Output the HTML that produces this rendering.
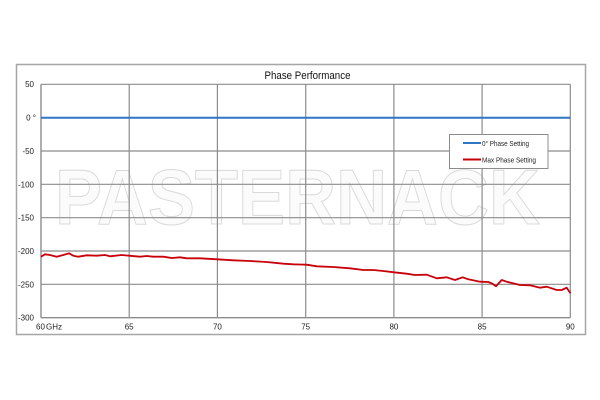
<!DOCTYPE html>
<html><head><meta charset="utf-8"><style>
html,body{margin:0;padding:0;background:#fff;}
svg{display:block;}
text{font-family:"Liberation Sans",sans-serif;}
</style></head><body>
<svg width="600" height="400" viewBox="0 0 600 400" xmlns="http://www.w3.org/2000/svg">
<rect x="0" y="0" width="600" height="400" fill="#fff"/>
<rect x="16.5" y="64.5" width="569" height="270" fill="#fff" stroke="#a6a6a6" stroke-width="1.5"/>
<text x="307.5" y="79" font-size="11" text-anchor="middle" fill="#111" textLength="86" lengthAdjust="spacingAndGlyphs">Phase Performance</text>
<!-- watermark -->
<text x="55" y="224" font-size="78" font-weight="bold" fill="#fbfbfb" stroke="#d9d9d9" stroke-width="1" textLength="485" lengthAdjust="spacingAndGlyphs">PASTERNACK</text>
<!-- grid -->
<g stroke="#8c8c8c" stroke-width="1.2" fill="none">
<line x1="41" y1="84.3" x2="570.3" y2="84.3"/>
<line x1="41" y1="151" x2="570.3" y2="151"/>
<line x1="41" y1="184.3" x2="570.3" y2="184.3"/>
<line x1="41" y1="217.7" x2="570.3" y2="217.7"/>
<line x1="41" y1="251" x2="570.3" y2="251"/>
<line x1="41" y1="284.3" x2="570.3" y2="284.3"/>
<line x1="41" y1="117.7" x2="570.3" y2="117.7"/>
<line x1="129.2" y1="84.3" x2="129.2" y2="317.7"/>
<line x1="217.4" y1="84.3" x2="217.4" y2="317.7"/>
<line x1="305.7" y1="84.3" x2="305.7" y2="317.7"/>
<line x1="393.9" y1="84.3" x2="393.9" y2="317.7"/>
<line x1="482.1" y1="84.3" x2="482.1" y2="317.7"/>
<line x1="570.3" y1="84.3" x2="570.3" y2="317.7"/>
<line x1="41" y1="84.3" x2="41" y2="317.7" stroke-width="1.4"/>
<line x1="41" y1="317.7" x2="570.3" y2="317.7" stroke-width="1.4"/>
</g>
<!-- series -->
<line x1="41" y1="117.8" x2="570.3" y2="117.8" stroke="#2e75c6" stroke-width="2"/>
<polyline fill="none" stroke="#c8000a" stroke-width="1.8" stroke-linejoin="round" points="41,256.7 45,254.3 50,255 56.7,256.7 63.3,255 69,253.3 73.3,255.7 78.3,256.7 86.7,255.3 96.7,255.7 105,255 110,256.3 121.7,255 129,255.7 140,256.7 146.7,256 153.3,256.7 163.3,256.7 171.7,258 180,257.3 186.7,258.3 200,258.3 217.3,259.3 233.3,260.3 250,261 266.7,262 283.3,263.7 293.3,264.3 300,264.5 306.7,264.7 316.7,266.3 333.3,267 350,268.3 363.3,270 373.3,270 383.3,271 394,272.3 406.7,273.7 415,275 426.7,274.7 436.7,278.3 446.7,277.3 455,280 462.7,277.3 468.3,279.3 480,281.7 488.3,282 491.7,283.3 496,286.3 501.7,280 506.7,281.7 520,285 530,285.3 540,287.7 546.7,286.7 556.7,290 561.7,290 566.7,287.7 570.5,293.3"/>
<!-- legend -->
<rect x="449.5" y="134.5" width="98.5" height="34" fill="#fff" stroke="#8c8c8c" stroke-width="1"/>
<line x1="463" y1="143" x2="481" y2="143" stroke="#2e75c6" stroke-width="2"/>
<line x1="463" y1="159.5" x2="481" y2="159.5" stroke="#c8000a" stroke-width="2"/>
<text x="482" y="145.8" font-size="7.5" fill="#222" textLength="47" lengthAdjust="spacingAndGlyphs">0° Phase Setting</text>
<text x="482" y="162.3" font-size="7.5" fill="#222" textLength="54" lengthAdjust="spacingAndGlyphs">Max Phase Setting</text>
<!-- y labels -->
<g font-size="8" fill="#222" text-anchor="end">
<text x="34" y="87">50</text>
<text x="36" y="120.5">0 °</text>
<text x="34" y="154">-50</text>
<text x="34" y="187.3">-100</text>
<text x="34" y="220.7">-150</text>
<text x="34" y="254">-200</text>
<text x="34" y="287.3">-250</text>
<text x="34" y="320.7">-300</text>
</g>
<!-- x labels -->
<g font-size="8" fill="#222">
<text x="36" y="329.5">60</text>
<text x="46" y="329.5">GHz</text>
</g>
<g font-size="8" fill="#222" text-anchor="middle">
<text x="129.2" y="329.5">65</text>
<text x="217.4" y="329.5">70</text>
<text x="305.7" y="329.5">75</text>
<text x="393.9" y="329.5">80</text>
<text x="482.1" y="329.5">85</text>
<text x="570.3" y="329.5">90</text>
</g>
</svg>
</body></html>
